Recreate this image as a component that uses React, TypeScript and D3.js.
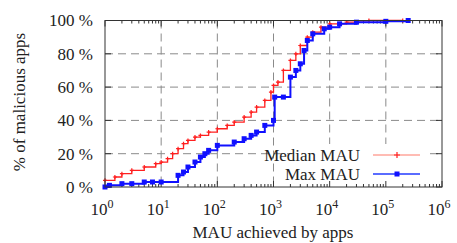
import React, { useEffect, useRef } from "react";
import * as d3 from "d3";

// CDF of malicious apps by MAU
const medianMau = [1, 1.5, 2, 3, 5, 8, 10, 13, 16, 20, 25, 30, 40, 50, 70, 100, 150, 200, 300, 400, 500, 700, 900, 1000, 1200, 1500, 2000, 2500, 3000, 4000, 5000, 7000, 10000, 20000, 50000, 200000];
const medianPct = [4, 6, 8, 10, 12, 14, 15, 17, 20, 23, 26, 28, 30, 31, 33, 35, 37, 39, 42, 45, 48, 52, 57, 61, 63, 70, 76, 80, 85, 90, 93, 96, 98, 99, 100, 100];

const maxMau = [1, 1.2, 2, 3, 5, 7, 10, 20, 25, 30, 40, 50, 60, 70, 100, 200, 300, 400, 500, 700, 1000, 1050, 1500, 2000, 2500, 3000, 3500, 4000, 5000, 8000, 10000, 15000, 30000, 100000, 250000];
const maxPct = [0, 1, 2, 2, 3, 3, 3, 7, 9, 12, 15, 18, 20, 22, 25, 27, 29, 31, 33, 37, 40, 54, 54, 66, 70, 74, 82, 88, 92, 95, 96, 98, 99, 99.5, 100];

const yTicks = [0, 20, 40, 60, 80, 100];
const xExponents = [0, 1, 2, 3, 4, 5, 6];

const seriesNames = ["Median MAU", "Max MAU"];
const seriesColors = ["#ff2020", "#1010ff"];

const App = () => {
  const chartRef = useRef(null);

  useEffect(() => {
    drawChart();
  }, []);

  const drawChart = () => {
    const width = 457;
    const height = 243;
    const left = 105;
    const right = 442;
    const top = 20.5;
    const bottom = 187;
    const font = "Liberation Serif, Times New Roman, serif";

    const svg = d3.select(chartRef.current);
    svg.selectAll("*").remove();
    svg.attr("width", width).attr("height", height);

    const x = d3.scaleLog().domain([1, 1e6]).range([left, right]);
    const y = d3.scaleLinear().domain([0, 100]).range([bottom, top]);

    svg.append("rect").attr("width", width).attr("height", height).attr("fill", "white");

    // grid
    const grid = svg.append("g").attr("stroke", "#8a8a8a").attr("stroke-width", 1).attr("stroke-dasharray", "8,5");
    yTicks.slice(1, -1).forEach((t) => {
      grid.append("line").attr("x1", left).attr("x2", right).attr("y1", y(t)).attr("y2", y(t));
    });
    xExponents.slice(1, -1).forEach((e) => {
      const px = x(Math.pow(10, e));
      grid.append("line").attr("x1", px).attr("x2", px).attr("y1", top).attr("y2", bottom);
    });

    // legend box (opaque, hides grid)
    svg.append("rect").attr("x", 292).attr("y", 144).attr("width", 138).attr("height", 41).attr("fill", "white");

    // ticks (inward, all sides)
    const ticks = svg.append("g").attr("stroke", "#333").attr("stroke-width", 1);
    yTicks.forEach((t) => {
      ticks.append("line").attr("x1", left).attr("x2", left + 6).attr("y1", y(t)).attr("y2", y(t));
      ticks.append("line").attr("x1", right).attr("x2", right - 6).attr("y1", y(t)).attr("y2", y(t));
    });
    xExponents.forEach((e) => {
      const px = x(Math.pow(10, e));
      ticks.append("line").attr("x1", px).attr("x2", px).attr("y1", bottom).attr("y2", bottom - 6);
      ticks.append("line").attr("x1", px).attr("x2", px).attr("y1", top).attr("y2", top + 6);
      if (e < 6) {
        for (let m = 2; m < 10; m++) {
          const mx = x(m * Math.pow(10, e));
          ticks.append("line").attr("x1", mx).attr("x2", mx).attr("y1", bottom).attr("y2", bottom - 3);
          ticks.append("line").attr("x1", mx).attr("x2", mx).attr("y1", top).attr("y2", top + 3);
        }
      }
    });

    // series
    const series = [
      { mau: medianMau, pct: medianPct },
      { mau: maxMau, pct: maxPct },
    ];
    const line = d3
      .line()
      .x((d) => x(d[0]))
      .y((d) => y(d[1]))
      .curve(d3.curveStepAfter);

    series.forEach((s, i) => {
      const pts = s.mau.map((m, j) => [m, s.pct[j]]);
      svg
        .append("path")
        .attr("d", line(pts))
        .attr("fill", "none")
        .attr("stroke", seriesColors[i])
        .attr("stroke-width", i === 0 ? 1.3 : 2);
      const g = svg.append("g");
      pts.forEach((p) => {
        const px = x(p[0]);
        const py = y(p[1]);
        if (i === 0) {
          g.append("path")
            .attr("d", `M${px - 2},${py}H${px + 2}M${px},${py - 2}V${py + 2}`)
            .attr("stroke", seriesColors[i])
            .attr("stroke-width", 1.2);
        } else {
          g.append("rect")
            .attr("x", px - 2.5)
            .attr("y", py - 2.5)
            .attr("width", 5)
            .attr("height", 5)
            .attr("fill", seriesColors[i]);
        }
      });
    });

    // legend
    seriesNames.forEach((name, i) => {
      const ly = 155 + i * 19;
      svg
        .append("text")
        .attr("x", 360)
        .attr("y", ly)
        .attr("dy", "0.35em")
        .attr("text-anchor", "end")
        .attr("font-family", font)
        .attr("font-size", 17)
        .attr("fill", "#222")
        .text(name);
      svg
        .append("line")
        .attr("x1", 373)
        .attr("x2", 420)
        .attr("y1", ly)
        .attr("y2", ly)
        .attr("stroke", i === 0 ? "#ff7a6a" : "#5a6cff")
        .attr("stroke-width", i === 0 ? 1.2 : 2);
      if (i === 0) {
        svg
          .append("path")
          .attr("d", `M394,${ly}H400M397,${ly - 3}V${ly + 3}`)
          .attr("stroke", seriesColors[i])
          .attr("stroke-width", 1.2);
      } else {
        svg.append("rect").attr("x", 394.5).attr("y", ly - 2.5).attr("width", 5).attr("height", 5).attr("fill", seriesColors[i]);
      }
    });

    // frame
    svg
      .append("rect")
      .attr("x", left)
      .attr("y", top)
      .attr("width", right - left)
      .attr("height", bottom - top)
      .attr("fill", "none")
      .attr("stroke", "#333")
      .attr("stroke-width", 1);

    // y tick labels
    yTicks.forEach((t) => {
      svg
        .append("text")
        .attr("x", 93)
        .attr("y", y(t))
        .attr("dy", "0.35em")
        .attr("text-anchor", "end")
        .attr("font-family", font)
        .attr("font-size", 17)
        .attr("fill", "#222")
        .text(`${t} %`);
    });

    // x tick labels with superscripts
    xExponents.forEach((e) => {
      const t = svg
        .append("text")
        .attr("x", x(Math.pow(10, e)) - 3)
        .attr("y", 215)
        .attr("text-anchor", "middle")
        .attr("font-family", font)
        .attr("font-size", 17)
        .attr("fill", "#222");
      t.append("tspan").text("10");
      t.append("tspan").attr("dy", -7).attr("font-size", 12).text(e);
    });

    // axis titles
    svg
      .append("text")
      .attr("x", 273)
      .attr("y", 238)
      .attr("text-anchor", "middle")
      .attr("font-family", font)
      .attr("font-size", 17)
      .attr("fill", "#222")
      .text("MAU achieved by apps");
    svg
      .append("text")
      .attr("transform", "translate(19,102) rotate(-90)")
      .attr("dy", "0.35em")
      .attr("text-anchor", "middle")
      .attr("font-family", font)
      .attr("font-size", 17)
      .attr("fill", "#222")
      .text("% of malicious apps");
  };

  return <svg ref={chartRef} style={{ position: "absolute", left: 0, top: 0 }}></svg>;
};

export default App;
